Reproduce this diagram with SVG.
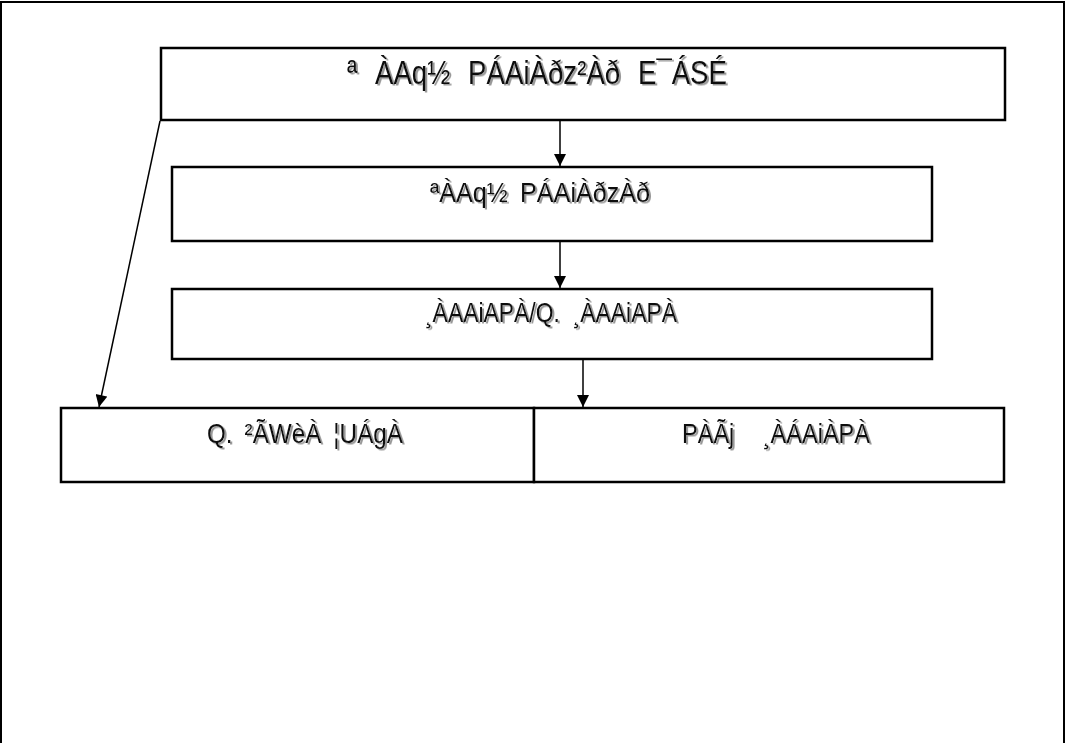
<svg xmlns="http://www.w3.org/2000/svg" width="1065" height="743" viewBox="0 0 1065 743">
<style>
.box{fill:#fff;stroke:#000;stroke-width:2.5}
.t{font-family:"Liberation Sans",Arial,sans-serif;font-size:28px;fill:#111;filter:url(#sh)}
.big{font-size:33px}
.c{stroke:#000;stroke-width:1.5;fill:none;marker-end:url(#ah)}
</style>
<defs>
<filter id="sh" x="-5%" y="-20%" width="110%" height="150%">
<feDropShadow dx="2" dy="1.5" stdDeviation="0.4" flood-color="#999" flood-opacity="1"/>
</filter>
<marker id="ah" viewBox="0 0 10 10" refX="10" refY="5" markerWidth="14" markerHeight="12" markerUnits="userSpaceOnUse" orient="auto">
<path d="M0,0 L10,5 L0,10 z" fill="#000"/>
</marker>
</defs>
<rect x="1" y="2" width="1063" height="760" fill="#fff" stroke="#000" stroke-width="2"/>
<g id="n1"><rect class="box" x="161" y="48" width="844" height="72"/>
<text class="t big" x="347" y="84" word-spacing="12" textLength="380" lengthAdjust="spacingAndGlyphs">ª ÀAq½ PÁAiÀðz²Àð E¯ÁSÉ</text></g>
<g id="n2"><rect class="box" x="172" y="167" width="760" height="74"/>
<text class="t" x="430" y="202" word-spacing="6" textLength="220" lengthAdjust="spacingAndGlyphs">ªÀAq½ PÁAiÀðzÀð</text></g>
<g id="n3"><rect class="box" x="172" y="289" width="760" height="70"/>
<text class="t" x="425" y="322" word-spacing="8" textLength="252" lengthAdjust="spacingAndGlyphs">¸ÀAAiAPÀ/Q. ¸ÀAAiAPÀ</text></g>
<g id="n4"><rect class="box" x="61" y="408" width="473" height="74"/>
<text class="t" x="207" y="443" word-spacing="6" textLength="196" lengthAdjust="spacingAndGlyphs">Q. ²ÃWèÀ ¦UÁgÀ</text></g>
<g id="n5"><rect class="box" x="534" y="408" width="470" height="74"/>
<text class="t" x="682" y="443" word-spacing="26" textLength="188" lengthAdjust="spacingAndGlyphs">PÀÃj ¸ÀÁAiÀPÀ</text></g>
<g id="connectors">
<line class="c" x1="560" y1="121" x2="560" y2="166"/>
<line class="c" x1="560" y1="242" x2="560" y2="288"/>
<line class="c" x1="583" y1="360" x2="583" y2="407"/>
<line class="c" x1="160" y1="121" x2="99" y2="407"/>
</g>
</svg>
